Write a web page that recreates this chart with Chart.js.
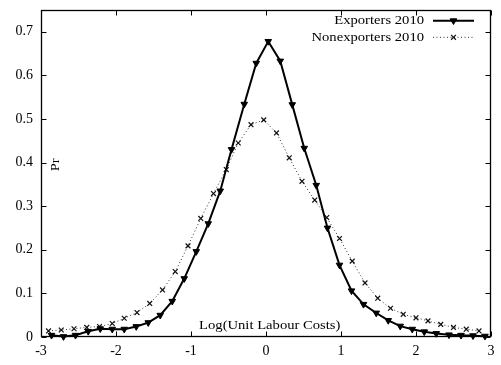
<!DOCTYPE html>
<html>
<head>
<meta charset="utf-8">
<script src="https://cdn.jsdelivr.net/npm/chart.js@4/dist/chart.umd.min.js"></script>
<style>
html,body{margin:0;padding:0;background:#fff;}
#wrap{width:501px;height:365px;}
</style>
</head>
<body>
<div id="wrap"><canvas id="c" width="501" height="365"></canvas></div>
<script>
// ---- data ----
const seriesNames = ["Exporters 2010", "Nonexporters 2010"];
const exportersX = [-2.86,-2.70,-2.54,-2.37,-2.21,-2.05,-1.89,-1.73,-1.57,-1.41,-1.25,-1.09,-0.93,-0.77,-0.61,-0.46,-0.29,-0.13,0.03,0.19,0.35,0.51,0.67,0.82,0.98,1.14,1.30,1.47,1.63,1.79,1.95,2.11,2.27,2.44,2.60,2.76,2.92];
const exportersY = [0.004,0.001,0.004,0.013,0.019,0.018,0.018,0.024,0.033,0.050,0.082,0.134,0.196,0.260,0.335,0.430,0.534,0.628,0.678,0.633,0.533,0.433,0.348,0.250,0.165,0.106,0.075,0.055,0.038,0.025,0.018,0.012,0.008,0.005,0.004,0.003,0.002];
const nonexportersX = [-2.90,-2.73,-2.56,-2.39,-2.22,-2.05,-1.89,-1.72,-1.55,-1.38,-1.21,-1.04,-0.87,-0.70,-0.53,-0.37,-0.20,-0.03,0.14,0.31,0.48,0.65,0.81,0.98,1.15,1.32,1.49,1.66,1.83,2.00,2.16,2.33,2.50,2.67,2.84];
const nonexportersY = [0.014,0.016,0.019,0.022,0.024,0.031,0.043,0.056,0.077,0.108,0.150,0.209,0.272,0.329,0.384,0.445,0.487,0.498,0.468,0.411,0.357,0.314,0.274,0.226,0.174,0.124,0.089,0.066,0.052,0.044,0.037,0.029,0.022,0.018,0.014];
const xTicks = [-3,-2,-1,0,1,2,3];
const yTicks = [0,0.1,0.2,0.3,0.4,0.5,0.6,0.7];
const xTitle = "Log(Unit Labour Costs)";
const yTitle = "Pr";

const FONT = "Liberation Serif, Times New Roman, serif";
const SX = 1.17; // horizontal text stretch of the reference

function stretchedText(ctx, txt, x, y, align, rot) {
  ctx.save();
  ctx.translate(x, y);
  if (rot) ctx.rotate(rot);
  ctx.scale(SX, 1);
  ctx.textAlign = align;
  ctx.textBaseline = 'middle';
  ctx.fillText(txt, 0, 0);
  ctx.restore();
}

const framePlugin = {
  id: 'frame',
  afterDatasetsDraw(chart) {
    const ctx = chart.ctx, a = chart.chartArea;
    const xs = chart.scales.x, ys = chart.scales.y;
    const L = Math.round(a.left) + 0.5, R = Math.round(a.right) - 0.5;
    const T = Math.round(a.top) + 0.5, B = Math.round(a.bottom) - 0.5;
    ctx.save();
    ctx.strokeStyle = '#000';
    ctx.lineWidth = 1.3;
    ctx.setLineDash([]);
    ctx.strokeRect(L, T, R - L, B - T);
    ctx.lineWidth = 1;
    const tl = 5;
    ctx.beginPath();
    xTicks.forEach(v => {
      const px = Math.round(xs.getPixelForValue(v)) + 0.5;
      ctx.moveTo(px, B); ctx.lineTo(px, B - tl);
      ctx.moveTo(px, T); ctx.lineTo(px, T + tl);
    });
    yTicks.forEach(v => {
      const py = Math.round(ys.getPixelForValue(v)) + 0.5;
      ctx.moveTo(L, py); ctx.lineTo(L + tl, py);
      ctx.moveTo(R, py); ctx.lineTo(R - tl, py);
    });
    ctx.stroke();

    // axis titles (placed inside the plot like the reference)
    ctx.fillStyle = '#000';
    ctx.font = '12.5px ' + FONT;
    stretchedText(ctx, xTitle, xs.getPixelForValue(0.05), B - 11, 'center', 0);
    stretchedText(ctx, yTitle, L + 14, ys.getPixelForValue(0.395), 'center', -Math.PI / 2);

    // legend (top right, text left of sample)
    const ds = chart.data.datasets;
    const rows = [20.7, 37.3];
    const textRight = 424, s0 = 433, s1 = 474, sm = 453.5;
    ds.forEach((d, i) => {
      const y = rows[i];
      ctx.fillStyle = '#000';
      stretchedText(ctx, d.label, textRight, y, 'right', 0);
      ctx.save();
      ctx.strokeStyle = d.borderColor;
      ctx.lineWidth = d.borderWidth;
      ctx.setLineDash(d.borderDash || []);
      ctx.beginPath(); ctx.moveTo(s0, y); ctx.lineTo(s1, y); ctx.stroke();
      ctx.setLineDash([]);
      ctx.fillStyle = d.pointBackgroundColor;
      ctx.strokeStyle = d.pointBorderColor;
      ctx.lineWidth = d.pointBorderWidth;
      Chart.helpers.drawPoint(ctx, {pointStyle: d.pointStyle, rotation: d.pointRotation || 0, radius: d.pointRadius, borderWidth: d.pointBorderWidth}, sm, y);
      ctx.restore();
    });
    ctx.restore();
  }
};

const pts = (xs, ys) => xs.map((x, i) => ({x: x, y: ys[i]}));

new Chart(document.getElementById('c'), {
  type: 'line',
  data: {
    datasets: [
      {
        label: seriesNames[0],
        data: pts(exportersX, exportersY),
        borderColor: '#000', borderWidth: 2,
        pointStyle: 'triangle', pointRotation: 180, pointRadius: 3.8,
        pointBackgroundColor: '#000', pointBorderColor: '#000', pointBorderWidth: 1,
        clip: false, order: 1
      },
      {
        label: seriesNames[1],
        data: pts(nonexportersX, nonexportersY),
        borderColor: '#333', borderWidth: 1, borderDash: [1, 2.5],
        pointStyle: 'crossRot', pointRadius: 3.4,
        pointBackgroundColor: '#111', pointBorderColor: '#111', pointBorderWidth: 1.2,
        clip: false, order: 2
      }
    ]
  },
  options: {
    responsive: false,
    animation: false,
    layout: {padding: {top: 10, right: 10, left: 0, bottom: 0}},
    plugins: {legend: {display: false}, tooltip: {enabled: false}},
    scales: {
      x: {
        type: 'linear', min: -3, max: 3,
        afterBuildTicks: s => { s.ticks = xTicks.map(v => ({value: v})); },
        afterFit: s => { s.height = 28; s.paddingLeft = 0; s.paddingRight = 0; },
        grid: {display: false, drawTicks: false},
        border: {display: false},
        ticks: {color: '#000', padding: 6, maxRotation: 0, font: {family: FONT, size: 14}, callback: v => String(v)}
      },
      y: {
        type: 'linear', min: 0, max: 0.75,
        afterBuildTicks: s => { s.ticks = yTicks.map(v => ({value: v})); },
        afterFit: s => { s.width = 41; s.paddingTop = 0; s.paddingBottom = 0; },
        grid: {display: false, drawTicks: false},
        border: {display: false},
        ticks: {color: '#000', padding: 8, font: {family: FONT, size: 14}, callback: v => String(v)}
      }
    }
  },
  plugins: [framePlugin]
});
</script>
</body>
</html>
